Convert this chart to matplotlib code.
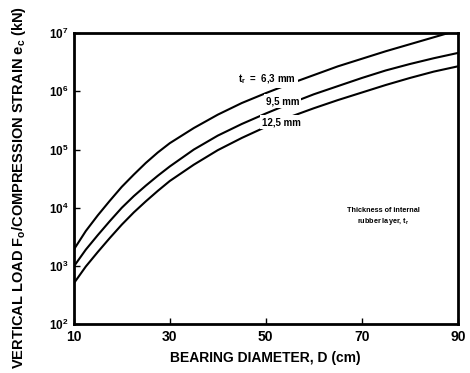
import numpy as np
import matplotlib
matplotlib.use("Agg")
from matplotlib import pyplot as plt

plt.rcParams['font.family'] = ['Liberation Sans', 'DejaVu Sans']
plt.rcParams['font.weight'] = 'bold'
plt.rcParams['mathtext.fontset'] = 'custom'
plt.rcParams['mathtext.rm'] = 'Liberation Sans:bold'
plt.rcParams['mathtext.it'] = 'Liberation Sans:bold'
plt.rcParams['mathtext.bf'] = 'Liberation Sans:bold'

# bearing diameter D (cm)
diam = [10, 12.5, 15, 17.5, 20, 22.5, 25, 27.5, 30, 35, 40, 45, 50, 55, 60,
        65, 70, 75, 80, 85, 90]
# log10 of vertical load / compression strain (kN)
log_t63 = [3.28, 3.60, 3.87, 4.12, 4.36, 4.57, 4.77, 4.95, 5.11, 5.37, 5.60,
           5.80, 5.97, 6.13, 6.28, 6.43, 6.56, 6.69, 6.81, 6.93, 7.05]
log_t95 = [2.99, 3.28, 3.53, 3.77, 4.00, 4.20, 4.38, 4.55, 4.71, 5.00, 5.24,
           5.44, 5.62, 5.79, 5.95, 6.09, 6.23, 6.36, 6.47, 6.57, 6.66]
log_t125 = [2.70, 2.99, 3.24, 3.48, 3.71, 3.92, 4.11, 4.29, 4.46, 4.74, 4.99,
            5.20, 5.39, 5.56, 5.71, 5.85, 5.98, 6.11, 6.23, 6.34, 6.43]
xticks = [10, 30, 50, 70, 90]
yexp = [2, 3, 4, 5, 6, 7]

fig = plt.figure(figsize=(4.7, 3.73), dpi=100)
ax = fig.add_axes([0.157, 0.131, 0.817, 0.780])

for vals in (log_t63, log_t95, log_t125):
    ax.plot(diam, 10 ** np.array(vals), color='black', lw=1.5,
            solid_joinstyle='round')

ax.set_yscale('log')
ax.set_xlim(10, 90)
ax.set_ylim(1e2, 1e7)
ax.set_xticks(xticks)
ax.set_xticklabels([str(v) for v in xticks], fontsize=10, fontweight='bold')
ax.set_yticks([10 ** e for e in yexp])
ax.set_yticklabels([r'$\mathrm{10^{%d}}$' % e for e in yexp], fontsize=8.5)
ax.minorticks_off()
ax.tick_params(direction='in', length=4, width=1, pad=4)
for s in ax.spines.values():
    s.set_linewidth(2)

ax.set_xlabel('BEARING DIAMETER, D (cm)', fontsize=10, fontweight='bold',
              labelpad=5)
ax.set_ylabel(r'VERTICAL LOAD F$_\mathrm{o}$/COMPRESSION STRAIN e$_\mathrm{c}$ (kN)',
              fontsize=10.5, fontweight='bold')
ax.yaxis.set_label_coords(-0.118, 0.47)

box = dict(facecolor='white', edgecolor='none', pad=1.5)
ax.text(50.3, 10 ** 6.21, r'$\mathrm{t_r}$  =  6,3 mm', fontsize=7,
        ha='center', va='center', bbox=box)
ax.text(53.5, 10 ** 5.83, '9,5 mm', fontsize=7, ha='center', va='center',
        bbox=box)
ax.text(53.3, 10 ** 5.47, '12,5 mm', fontsize=7, ha='center', va='center',
        bbox=box)
ax.text(74.5, 10 ** 3.84, 'Thickness of internal\nrubber layer, $\\mathrm{t_r}$',
        fontsize=5.2, ha='center', va='center', linespacing=1.3)

fig.savefig('out.png', dpi=100)
